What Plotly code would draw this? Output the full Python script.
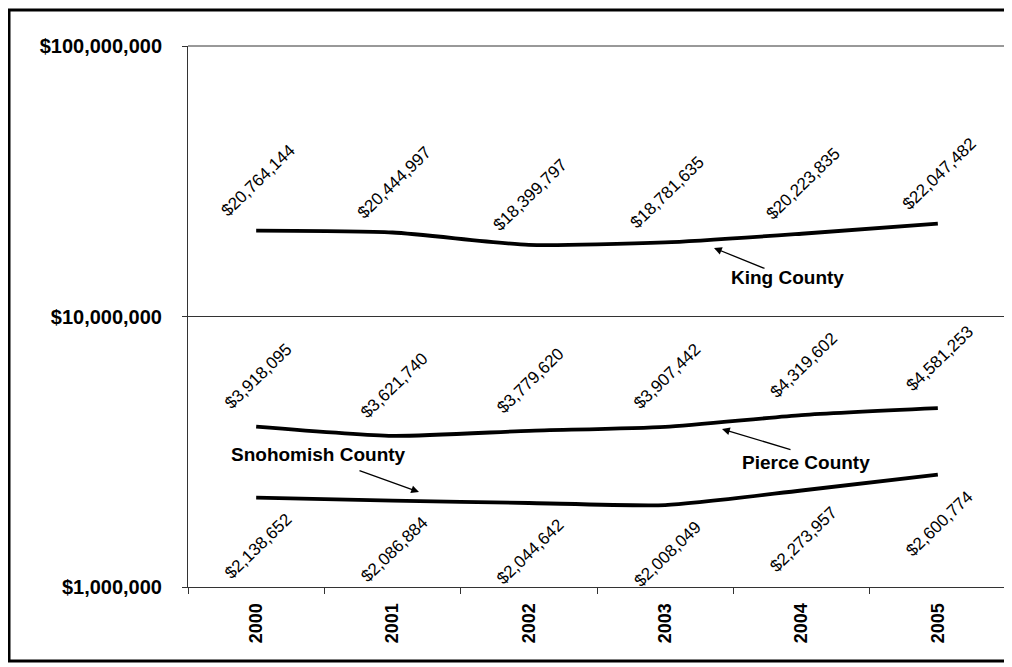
import numpy as np
import plotly.graph_objects as go

years = ["2000", "2001", "2002", "2003", "2004", "2005"]
king = [20764144, 20444997, 18399797, 18781635, 20223835, 22047482]
pierce = [3918095, 3621740, 3779620, 3907442, 4319602, 4581253]
snohomish = [2138652, 2086884, 2044642, 2008049, 2273957, 2600774]
ytick_vals = [1e6, 1e7, 1e8]
ytick_text = ["$1,000,000", "$10,000,000", "$100,000,000"]

FONT = "Arial, 'Liberation Sans', sans-serif"
OFF = 8  # page body margin
W, H = 1012 - OFF, 667 - OFF
L, R, T, B = 188 - OFF, 1006 - OFF, 46 - OFF, 587 - OFF
PW, PH = R - L, B - T

fig = go.Figure()
for name, vals in [("King County", king), ("Pierce County", pierce), ("Snohomish County", snohomish)]:
    fig.add_trace(go.Scatter(x=years, y=vals, mode="lines", name=name,
                             line=dict(color="black", width=3.8, shape="spline", smoothing=0.6),
                             showlegend=False, hoverinfo="skip"))

annotations = []
for vals, shift in [(king, 50), (pierce, 50), (snohomish, -49)]:
    for i, v in enumerate(vals):
        annotations.append(dict(x=i, y=np.log10(v), xref="x", yref="y",
                                text="${:,}".format(v), showarrow=False,
                                textangle=-44, yshift=shift, xshift=2,
                                font=dict(family=FONT, size=17, color="black")))

def lbl(text, x, y):
    return dict(x=x, y=y, xref="x", yref="y", text=text, showarrow=False,
                font=dict(family=FONT, size=19, color="black", weight="bold"))

def arrow(x, y, ax, ay):
    return dict(x=x, y=y, xref="x", yref="y", ax=ax, ay=ay, axref="pixel", ayref="pixel",
                text="", showarrow=True, arrowhead=2, arrowsize=1.2, arrowwidth=1.3,
                arrowcolor="black")

def px2x(px):
    return (px - OFF - L) / (PW / 6) - 0.5

def py2y(py):
    return 8 - (py - OFF - T) / (PH / 2)

annotations += [
    lbl("King County", px2x(787), py2y(277)),
    arrow(px2x(714), py2y(248), 52, 21),
    lbl("Pierce County", px2x(806), py2y(462)),
    arrow(px2x(722), py2y(429), 70, 21),
    lbl("Snohomish County", px2x(318), py2y(454)),
    arrow(px2x(419), py2y(492), -61, -22),
]

shapes = [
    dict(type="rect", xref="paper", yref="paper",
         x0=(9 - OFF - L) / PW, x1=(1009 - OFF - L) / PW,
         y0=(B - (661 - OFF)) / PH, y1=(B - (10 - OFF)) / PH,
         line=dict(color="black", width=3)),
    dict(type="line", xref="paper", yref="paper", x0=0, x1=1, y0=1, y1=1,
         line=dict(color="#333", width=1)),
    dict(type="line", xref="paper", yref="paper", x0=1, x1=1, y0=0, y1=1,
         line=dict(color="#555", width=1, dash="dot")),
]

fig.update_layout(
    width=W, height=H,
    margin=dict(l=L, r=W - R, t=T, b=H - B, autoexpand=False),
    paper_bgcolor="white", plot_bgcolor="white",
    font=dict(family=FONT, color="black"),
    annotations=annotations, shapes=shapes,
)
fig.update_xaxes(type="category", categoryorder="array", categoryarray=years,
                 range=[-0.5, 5.5], autorange=False, showgrid=False, automargin=False,
                 showline=True, linecolor="#333", linewidth=1,
                 ticks="outside", tickson="boundaries", ticklen=6, tickcolor="#333",
                 tickangle=-90, tickfont=dict(family=FONT, size=18, color="black", weight="bold"),
                 ticklabelstandoff=8)
fig.update_yaxes(type="log", range=[6, 8], autorange=False, tickvals=ytick_vals, ticktext=ytick_text,
                 showgrid=True, gridcolor="#333", gridwidth=1, showline=True, linecolor="#333",
                 linewidth=1, ticks="outside", ticklen=5, tickcolor="#333", automargin=False,
                 tickfont=dict(family=FONT, size=20, color="black", weight="bold"), ticklabelstandoff=16,
                 zeroline=False)

fig.write_html("out.html")
